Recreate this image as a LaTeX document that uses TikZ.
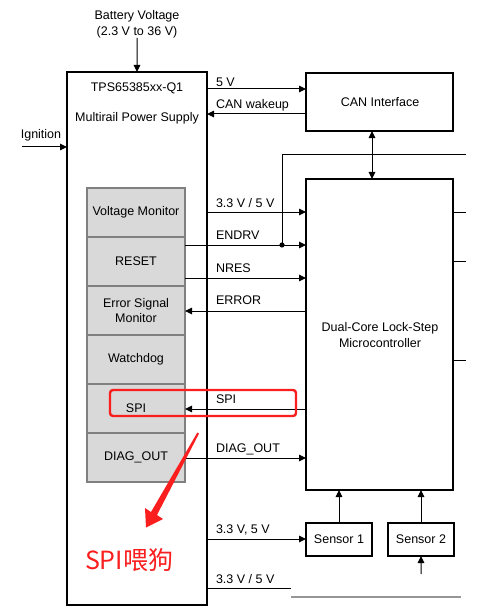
\documentclass[tikz,border=0pt]{standalone}
\usepackage{fontspec}
\setmainfont{Liberation Sans}
\newfontfamily\cjkfont{Noto Sans CJK SC}
\usetikzlibrary{arrows.meta}
\definecolor{blockgray}{RGB}{217,217,217}
\definecolor{blockedge}{RGB}{128,128,128}
\definecolor{notered}{RGB}{250,30,30}
\definecolor{linegray}{RGB}{150,150,150}
\begin{document}
\begin{tikzpicture}[x=1bp,y=-1bp,
  every node/.style={font=\fontsize{12.5bp}{15bp}\selectfont, inner sep=0pt, outer sep=0pt},
  box/.style={draw=black, line width=1.6bp, fill=white, anchor=north west},
  gblock/.style={draw=blockedge, line width=1.5bp, fill=blockgray, anchor=north west,
    minimum width=98bp, minimum height=49bp, align=center},
  wire/.style={draw=black, line width=1bp},
  arr/.style={wire, -{Triangle[length=7bp,width=6.5bp]}},
  darr/.style={wire, {Triangle[length=7bp,width=6.5bp]}-{Triangle[length=7bp,width=6.5bp]}},
  lbl/.style={anchor=base west},
]
\useasboundingbox (0,0) rectangle (482,613);

% main boxes
\node[box, minimum width=140bp, minimum height=533bp] (tps) at (67,72) {};
\node[box, minimum width=147bp, minimum height=58bp] (can) at (306,73) {};
\node[box, minimum width=147bp, minimum height=311bp] (mcu) at (306,179) {};
\node[box, minimum width=66bp, minimum height=33bp] (s1) at (306,523) {};
\node[box, minimum width=66bp, minimum height=33bp] (s2) at (388,523) {};

% box texts
\node (tpsname) at (137,88) {TPS65385xx-Q1};
\node (tpsdesc) at (137,118) {Multirail Power Supply};
\node (cantxt) at (380,102) {CAN Interface};
\node[align=center] (mcutxt) at (380,335) {Dual-Core Lock-Step\\[1bp]Microcontroller};
\node (s1txt) at (s1.center) {Sensor 1};
\node (s2txt) at (s2.center) {Sensor 2};

% gray blocks
\node[gblock] (vmon) at (87,188) {Voltage Monitor};
\node[gblock] (rst) at (87,237) {RESET};
\node[gblock] (esm) at (87,286) {Error Signal\\[0bp]Monitor};
\node[gblock] (wdg) at (87,335) {Watchdog};
\node[gblock] (spi) at (87,384) {SPI};
\node[gblock] (diag) at (87,433) {DIAG\_OUT};

% inputs
\node[align=center] (batt) at (137,24) {Battery Voltage\\[1bp](2.3 V to 36 V)};
\draw[arr] (batt.south) -- (tps.north);
\node (ign) at (41,135) {Ignition};
\coordinate (ignin) at (22,147);
\draw[arr] (ignin) -- (tps.west |- ignin);

% signal levels
\coordinate (L5v) at (0,89);
\coordinate (Lcw) at (0,114);
\coordinate (L33a) at (0,212);
\coordinate (Lendrv) at (0,245);
\coordinate (Lnres) at (0,278);
\coordinate (Lerr) at (0,311);
\coordinate (Lspi) at (0,409);
\coordinate (Ldiag) at (0,458);
\coordinate (Lsens) at (0,539);
\coordinate (Lbot) at (0,588);

% connectors
\draw[arr] (tps.east |- L5v) -- (can.west |- L5v);
\draw[arr] (can.west |- Lcw) -- (tps.east |- Lcw);
\coordinate (xcan) at (372,0);
\draw[darr] (can.south -| xcan) -- (mcu.north -| xcan);
\draw[arr] (tps.east |- L33a) -- (mcu.west |- L33a);
\draw[arr] (rst.east |- Lendrv) -- (mcu.west |- Lendrv);
\draw[arr] (rst.east |- Lnres) -- (mcu.west |- Lnres);
\draw[arr] (mcu.west |- Lerr) -- (esm.east |- Lerr);
\draw[arr] (mcu.west |- Lspi) -- (spi.east |- Lspi);
\draw[arr] (diag.east |- Ldiag) -- (mcu.west |- Ldiag);
\draw[arr] (tps.east |- Lsens) -- (s1.west |- Lsens);
\draw[arr] (s1.north) -- (mcu.south -| s1.north);
\draw[arr] (s2.north) -- (mcu.south -| s2.north);
\coordinate (s2in) at (421,574);
\draw[arr] (s2in) -- (s2.south);

% ENDRV tap
\coordinate (tap) at (282,245);
\coordinate (tapup) at (282,155);
\coordinate (tapend) at (466,155);
\draw[wire] (tap) -- (tapup) -- (tapend);
\fill (tap) circle (2.6bp);

% MCU right stubs
\coordinate (r1) at (466,212);
\coordinate (r2) at (466,261);
\coordinate (r3) at (466,360);
\draw[wire] (mcu.east |- r1) -- (r1);
\draw[wire] (mcu.east |- r2) -- (r2);
\draw[wire] (mcu.east |- r3) -- (r3);

% bottom rail
\coordinate (botend) at (291,588);
\draw[wire] (tps.east |- Lbot) -- (botend);
\coordinate (gl1) at (291,597);
\coordinate (gl2) at (461,597);
\draw[draw=linegray, line width=2bp] (gl1) -- (gl2);

% labels
\node[lbl] (t5v) at (216,87) {5 V};
\node[lbl] (tcw) at (216,109) {CAN wakeup};
\node[lbl] (t33a) at (216,207) {3.3 V / 5 V};
\node[lbl] (tendrv) at (216,239) {ENDRV};
\node[lbl] (tnres) at (216,272) {NRES};
\node[lbl] (terr) at (216,304) {ERROR};
\node[lbl] (tspi) at (216,403) {SPI};
\node[lbl] (tdiag) at (216,452) {DIAG\_OUT};
\node[lbl] (tsens) at (216,533) {3.3 V, 5 V};
\node[lbl] (tbot) at (216,583) {3.3 V / 5 V};

% red annotation
\draw[notered, line width=2.4bp, rounded corners=3bp] (110,390) rectangle (296,416);
\fill[notered] (197.3,432.6) -- (151,512) -- (145,508) -- (146,527.5) -- (163,519) -- (157,515) -- (199,433.6) -- cycle;
\node[anchor=west, text=notered, font=\cjkfont\fontsize{25bp}{28bp}\selectfont] (note) at (85,560) {SPI喂狗};
\end{tikzpicture}
\end{document}
